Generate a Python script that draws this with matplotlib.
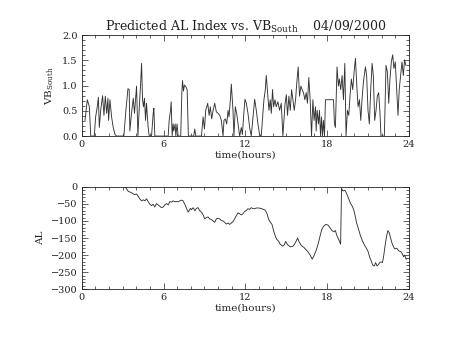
import numpy as np
import matplotlib
matplotlib.use("Agg")
import matplotlib.pyplot as plt
from matplotlib.ticker import MultipleLocator

plt.rcParams['font.family'] = ['DejaVu Serif']
plt.rcParams['mathtext.default'] = 'regular'

# VB south (top panel), time in hours
vb_t = [0.24, 0.41, 0.56, 0.66, 0.92, 1.02, 1.14, 1.22, 1.29, 1.39, 1.53, 1.63, 1.73, 1.83, 1.92,
        1.97, 2.07, 2.19, 2.31, 2.44, 2.56, 3.09, 3.24, 3.39, 3.48, 3.53, 3.65, 3.78, 3.87, 3.97,
        4.02, 4.12, 4.21, 4.31, 4.39, 4.46, 4.53, 4.60, 4.68, 4.75, 4.87, 4.95, 5.12, 5.24, 5.29,
        5.36, 6.34, 6.41, 6.51, 6.56, 6.63, 6.70, 6.75, 6.85, 6.90, 6.99, 7.07, 7.26, 7.34, 7.39,
        7.46, 7.53, 7.63, 7.73, 7.82, 8.21, 8.29, 8.36, 8.78, 8.90, 9.00, 9.09, 9.24, 9.34, 9.43,
        9.53, 9.63, 9.75, 9.87, 10.00, 10.12, 10.24, 10.36, 10.43, 10.53, 10.63, 10.73, 10.80, 10.90,
        10.97, 11.09, 11.16, 11.26, 11.36, 11.46, 11.58, 11.70, 11.78, 11.90, 11.97, 12.07, 12.19,
        12.31, 12.43, 12.56, 12.68, 12.80, 12.92, 13.04, 13.16, 13.29, 13.36, 13.46, 13.53, 13.63,
        13.73, 13.82, 13.90, 13.99, 14.07, 14.17, 14.26, 14.38, 14.51, 14.63, 14.75, 14.90, 15.00,
        15.09, 15.19, 15.29, 15.39, 15.48, 15.58, 15.68, 15.77, 15.87, 15.97, 16.07, 16.16, 16.26,
        16.36, 16.46, 16.55, 16.65, 16.75, 16.85, 16.95, 17.04, 17.14, 17.19, 17.26, 17.36, 17.43,
        17.51, 17.58, 17.65, 17.72, 17.80, 17.87, 18.46, 18.53, 18.60, 18.72, 18.82, 18.89, 18.99,
        19.09, 19.19, 19.29, 19.38, 19.48, 19.58, 19.67, 19.77, 19.87, 19.97, 20.07, 20.17, 20.26,
        20.36, 20.46, 20.55, 20.65, 20.80, 20.89, 20.99, 21.09, 21.19, 21.29, 21.38, 21.48, 21.58,
        21.67, 21.77, 21.87, 21.94, 22.19, 22.31, 22.41, 22.51, 22.60, 22.70, 22.80, 22.89, 22.99,
        23.09, 23.19, 23.28, 23.38, 23.48, 23.58, 23.67, 23.77]
vb = [0.31, 0.72, 0.58, 0.0, 0.0, 0.38, 0.58, 0.77, 0.17, 0.51, 0.80, 0.41, 0.79, 0.45, 0.75,
      0.31, 0.72, 0.38, 0.17, 0.03, 0.0, 0.0, 0.51, 0.94, 0.92, 0.10, 0.45, 0.75, 0.45, 0.82,
      0.99, 0.0, 0.51, 0.99, 1.44, 0.72, 0.58, 0.75, 0.31, 0.65, 0.17, 0.0, 0.0, 0.45, 0.55,
      0.0, 0.0, 0.31, 0.51, 0.68, 0.0, 0.24, 0.10, 0.24, 0.0, 0.24, 0.0, 0.0, 0.86, 1.10,
      0.89, 1.01, 0.98, 0.92, 0.0, 0.0, 0.14, 0.0, 0.0, 0.38, 0.14, 0.51, 0.65, 0.41, 0.58,
      0.34, 0.51, 0.65, 0.48, 0.45, 0.41, 0.31, 0.0, 0.31, 0.34, 0.24, 0.51, 0.38, 0.72,
      1.03, 0.51, 0.0, 0.58, 0.45, 0.24, 0.0, 0.17, 0.03, 0.51, 0.73, 0.65, 0.45,
      0.17, 0.0, 0.38, 0.73, 0.51, 0.24, 0.03, 0.0, 0.45, 0.72, 0.92, 1.20, 0.86,
      0.51, 0.72, 0.45, 0.92, 0.58, 0.72, 0.58, 0.68, 0.51, 0.65, 0.0, 0.62, 0.82,
      0.41, 0.79, 0.51, 0.92, 0.72, 0.51, 0.72, 1.06, 1.37, 0.79, 0.99, 0.92, 0.86,
      0.72, 0.86, 0.65, 1.16, 0.72, 0.0, 0.72, 0.31, 0.58, 0.10, 0.51, 0.24, 0.51,
      0.0, 0.38, 0.0, 0.31, 0.0, 0.72, 0.72, 0.24, 0.17, 1.37, 0.99, 1.13, 0.92,
      1.20, 0.72, 1.44, 0.0, 0.51, 0.41, 0.79, 1.13, 0.92, 1.27, 1.54, 0.99, 0.58,
      0.72, 0.31, 0.72, 1.06, 1.37, 1.20, 0.51, 0.24, 0.92, 1.44, 1.20, 0.31, 0.51,
      0.79, 0.86, 0.45, 0.0, 0.0, 1.40, 1.27, 0.65, 1.13, 1.47, 1.61, 1.34, 1.47,
      0.96, 0.41, 0.92, 1.20, 1.47, 1.20, 1.51, 1.40]

# AL index (bottom panel)
al_t = [3.05, 3.24, 3.41, 3.53, 3.73, 3.87, 4.02, 4.14, 4.26, 4.39, 4.51, 4.63, 4.75, 4.87, 4.99,
        5.12, 5.24, 5.36, 5.48, 5.61, 5.73, 5.85, 5.97, 6.09, 6.22, 6.34, 6.46, 6.58, 6.70, 6.83,
        6.95, 7.07, 7.19, 7.31, 7.43, 7.56, 7.68, 7.80, 7.87, 7.97, 8.04, 8.17, 8.29, 8.41, 8.53,
        8.66, 8.78, 8.90, 9.02, 9.14, 9.26, 9.38, 9.51, 9.63, 9.75, 9.87, 9.99, 10.12, 10.24, 10.36,
        10.48, 10.60, 10.73, 10.85, 10.97, 11.09, 11.21, 11.34, 11.46, 11.58, 11.70, 11.82, 11.95,
        12.07, 12.19, 12.31, 12.43, 12.56, 12.68, 12.80, 13.0, 13.2, 13.45, 13.6, 13.7, 13.85, 13.95,
        14.1, 14.2, 14.3, 14.45, 14.55, 14.74, 14.85, 14.95, 15.1, 15.3, 15.5, 15.65, 15.83, 15.95,
        16.1, 16.3, 16.56, 16.75, 16.9, 17.05, 17.2, 17.35, 17.5, 17.6, 17.75, 17.9, 18.05, 18.2,
        18.35, 18.5, 18.6, 18.7, 18.85, 18.98, 19.05, 19.15, 19.3, 19.4, 19.55, 19.7, 19.85, 19.95,
        20.05, 20.15, 20.3, 20.45, 20.6, 20.75, 20.9, 21.0, 21.1, 21.25, 21.35, 21.45, 21.55, 21.65,
        21.75, 21.85, 21.95, 22.05, 22.15, 22.25, 22.35, 22.45, 22.55, 22.65, 22.75, 22.85, 22.95,
        23.1, 23.25, 23.4, 23.5, 23.6, 23.68, 23.78, 23.85]
al = [2, -3, -13, -15, -19, -23, -21, -28, -35, -41, -38, -41, -35, -43, -51,
      -55, -51, -59, -49, -53, -57, -61, -59, -53, -49, -53, -43, -45, -41, -44,
      -43, -44, -41, -39, -41, -51, -63, -74, -70, -63, -67, -61, -70, -63, -61,
      -70, -74, -82, -94, -90, -88, -94, -96, -100, -104, -94, -92, -94, -99, -100,
      -104, -109, -106, -110, -106, -102, -94, -84, -76, -79, -82, -79, -72,
      -69, -64, -66, -61, -64, -64, -62, -62, -64, -68, -80, -95, -105, -110,
      -133, -145, -154, -160, -168, -174, -170, -160, -170, -176, -174, -165, -150, -162,
      -172, -178, -189, -200, -212, -200, -185, -165, -140, -125, -115, -110, -112, -120,
      -128, -132, -128, -142, -155, -168, -5, -12, -10, -18, -32, -48, -58, -68,
      -85, -105, -125, -145, -160, -172, -182, -190, -205, -220, -230, -232, -222, -232,
      -228, -222, -220, -222, -200, -170, -145, -128, -135, -150, -165, -175, -182,
      -180, -188, -190, -196, -205, -200, -212, -210]

fig = plt.figure(figsize=(4.54, 3.41), dpi=100)
ax1 = fig.add_axes([0.180, 0.601, 0.721, 0.296])
ax2 = fig.add_axes([0.180, 0.152, 0.721, 0.300])

ink = '#222222'
for ax in (ax1, ax2):
    ax.set_xlim(0, 24)
    ax.xaxis.set_major_locator(MultipleLocator(6))
    ax.xaxis.set_minor_locator(MultipleLocator(1))
    ax.tick_params(which='both', direction='in', top=True, right=True,
                   labelsize=7, colors=ink, width=0.5, pad=3)
    ax.tick_params(which='major', length=4)
    ax.tick_params(which='minor', length=2)
    for s in ax.spines.values():
        s.set_linewidth(0.6)
        s.set_color(ink)
    ax.set_xlabel('time(hours)', fontsize=7.5, color=ink, labelpad=1)

ax1.plot(vb_t, vb, color='#333333', lw=0.65)
ax1.set_ylim(0, 2.0)
ax1.yaxis.set_major_locator(MultipleLocator(0.5))
ax1.yaxis.set_minor_locator(MultipleLocator(0.1))
ax1.yaxis.set_major_formatter(plt.FormatStrFormatter('%.1f'))
ax1.set_ylabel('VB$_{South}$', fontsize=7.5, color=ink, labelpad=4)
ax1.set_title('Predicted AL Index vs. VB$_{South}$    04/09/2000', fontsize=9, color=ink, pad=3)

ax2.plot(al_t, al, color='#333333', lw=0.65)
ax2.set_ylim(-300, 0)
ax2.yaxis.set_major_locator(MultipleLocator(50))
ax2.yaxis.set_minor_locator(MultipleLocator(10))
ax2.set_ylabel('AL', fontsize=7.5, color=ink, labelpad=4)

fig.savefig('out.png', dpi=100)
